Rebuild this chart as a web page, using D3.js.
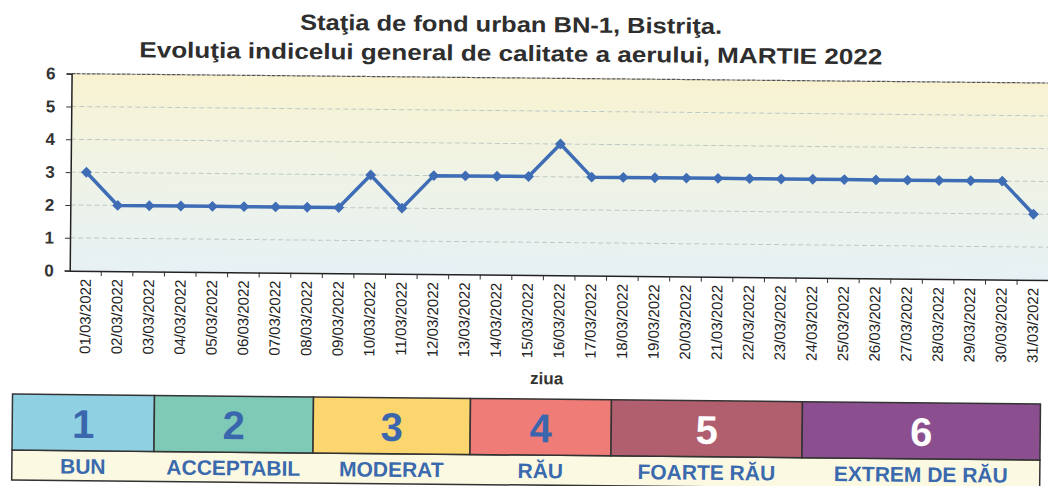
<!DOCTYPE html>
<html>
<head>
<meta charset="utf-8">
<script src="https://cdn.jsdelivr.net/npm/d3@7/dist/d3.min.js"></script>
<style>
  html, body { margin: 0; padding: 0; background: #ffffff; }
  svg { display: block; font-family: Arial, "Liberation Sans", sans-serif; }
</style>
</head>
<body>
<svg id="chart" width="1048" height="486"></svg>
<script>
// ---------- DATA ----------
const titleLines = ["Staţia de fond urban BN-1, Bistriţa.",
                    "Evoluţia indicelui general de calitate a aerului, MARTIE 2022"];
const days = ["01/03/2022","02/03/2022","03/03/2022","04/03/2022","05/03/2022","06/03/2022",
              "07/03/2022","08/03/2022","09/03/2022","10/03/2022","11/03/2022","12/03/2022",
              "13/03/2022","14/03/2022","15/03/2022","16/03/2022","17/03/2022","18/03/2022",
              "19/03/2022","20/03/2022","21/03/2022","22/03/2022","23/03/2022","24/03/2022",
              "25/03/2022","26/03/2022","27/03/2022","28/03/2022","29/03/2022","30/03/2022",
              "31/03/2022"];
const aqiValues = [3,2,2,2,2,2,2,2,2,3,2,3,3,3,3,4,3,3,3,3,3,3,3,3,3,3,3,3,3,3,2];
const yTicks = [0,1,2,3,4,5,6];
const xAxisTitle = "ziua";
const levels = [1,2,3,4,5,6];
const levelLabels = ["BUN","ACCEPTABIL","MODERAT","RĂU","FOARTE RĂU","EXTREM DE RĂU"];

// ---------- STYLE / LAYOUT ----------
const levelColors = ["#8fd0e2","#7fcab7","#fbd66f","#ef7c77","#b15f6f","#8b4e8e"];
const levelNumColors = ["#3a66ad","#3a66ad","#3a66ad","#3a66ad","#ffffff","#ffffff"];
const legendCellWidths = [142,159,157,141,191,238];
const lineColor = "#3e6db6";

const svg = d3.select("#chart");
const root = svg.append("g")
  .attr("transform", "rotate(0.55 524 243)");

const plot = {left: 70, right: 1049, top: 78, bottom: 275};

// defs: background gradient
const defs = svg.append("defs");
const grad = defs.append("linearGradient").attr("id","bg")
  .attr("x1",0).attr("y1",0).attr("x2",0).attr("y2",1);
grad.append("stop").attr("offset","0%").attr("stop-color","#f8f2d0");
grad.append("stop").attr("offset","45%").attr("stop-color","#f0f3e4");
grad.append("stop").attr("offset","100%").attr("stop-color","#e7f1f5");

// title
root.selectAll("text.title").data(titleLines).join("text")
  .attr("class","title")
  .attr("x", 509)
  .attr("y", (d,i) => i === 0 ? 32 : 61)
  .attr("text-anchor","middle")
  .attr("font-size", 22)
  .attr("font-weight","bold")
  .attr("fill","#2e2e2e")
  .attr("textLength", (d,i) => i === 0 ? 422 : 743)
  .attr("lengthAdjust","spacingAndGlyphs")
  .text(d => d);

// scales
const x = d3.scaleBand().domain(days).range([plot.left, plot.right]);
const y = d3.scaleLinear().domain([0,6]).range([plot.bottom, plot.top]);

// plot background
root.append("rect")
  .attr("x", plot.left).attr("y", plot.top)
  .attr("width", plot.right - plot.left).attr("height", plot.bottom - plot.top)
  .attr("fill","url(#bg)");

// gridlines
root.append("g").selectAll("line").data(yTicks.filter(t => t > 0 && t < 6)).join("line")
  .attr("x1", plot.left).attr("x2", plot.right)
  .attr("y1", d => y(d)).attr("y2", d => y(d))
  .attr("stroke","#bccac6").attr("stroke-width",1)
  .attr("stroke-dasharray","5,3");

// top border
root.append("line")
  .attr("x1", plot.left).attr("x2", plot.right)
  .attr("y1", y(6)).attr("y2", y(6))
  .attr("stroke","#555").attr("stroke-width",1.2)
  .attr("stroke-dasharray","4,1");

// y axis
const yAxis = root.append("g")
  .attr("transform", `translate(${plot.left},0)`)
  .call(d3.axisLeft(y).tickValues(yTicks).tickSize(5).tickPadding(11).tickFormat(d3.format("d")));
yAxis.select(".domain").attr("stroke","#222").attr("stroke-width",1.5);
yAxis.selectAll(".tick line").attr("stroke","#333");
yAxis.selectAll(".tick text")
  .attr("font-size",17).attr("font-weight","bold").attr("fill","#333")
  .attr("font-family","Arial, 'Liberation Sans', sans-serif");

// x axis (labels)
const xAxis = root.append("g")
  .attr("transform", `translate(0,${plot.bottom})`)
  .call(d3.axisBottom(x).tickSize(0).tickPadding(0));
xAxis.select(".domain").attr("stroke","#222").attr("stroke-width",1.5);
xAxis.selectAll(".tick text")
  .attr("transform","rotate(-90)")
  .attr("x", -8).attr("y", 0).attr("dy","0.36em")
  .attr("text-anchor","end")
  .attr("font-size",15).attr("fill","#222")
  .attr("font-family","Arial, 'Liberation Sans', sans-serif");
// boundary ticks
root.append("g").selectAll("line").data(days.slice(1)).join("line")
  .attr("x1", d => x(d)).attr("x2", d => x(d))
  .attr("y1", plot.bottom).attr("y2", plot.bottom + 5)
  .attr("stroke","#333").attr("stroke-width",1);

// x axis title
root.append("text")
  .attr("x", 548).attr("y", 384)
  .attr("text-anchor","middle")
  .attr("font-size",17).attr("font-weight","bold").attr("fill","#333")
  .text(xAxisTitle);

// line
const lineGen = d3.line()
  .x((d,i) => x(days[i]) + x.bandwidth()/2)
  .y(d => y(d));
root.append("path")
  .datum(aqiValues)
  .attr("d", lineGen)
  .attr("fill","none")
  .attr("stroke", lineColor)
  .attr("stroke-width", 3.5)
  .attr("stroke-linejoin","round");

// markers
const diamond = d3.symbol().type(d3.symbolDiamond2).size(75);
root.append("g").selectAll("path").data(aqiValues).join("path")
  .attr("d", diamond)
  .attr("transform", (d,i) => `translate(${x(days[i]) + x.bandwidth()/2},${y(d)})`)
  .attr("fill", lineColor);

// ---------- LEGEND ----------
const legend = {left: 14, top: 399, mid: 455, bottom: 485};
const cellX = [];
let acc = legend.left;
legendCellWidths.forEach(w => { cellX.push(acc); acc += w; });
const legendRight = acc;

// label row background
root.append("rect")
  .attr("x", legend.left).attr("y", legend.mid)
  .attr("width", legendRight - legend.left).attr("height", legend.bottom - legend.mid)
  .attr("fill","#fbf9e2").attr("stroke","#333").attr("stroke-width",1.5);

const cells = root.append("g").selectAll("g").data(levels).join("g");
cells.append("rect")
  .attr("x", (d,i) => cellX[i]).attr("y", legend.top)
  .attr("width", (d,i) => legendCellWidths[i]).attr("height", legend.mid - legend.top)
  .attr("fill", (d,i) => levelColors[i])
  .attr("stroke","#333").attr("stroke-width",1.5);
cells.append("text")
  .attr("x", (d,i) => cellX[i] + legendCellWidths[i]/2)
  .attr("y", legend.top + 43)
  .attr("text-anchor","middle")
  .attr("font-size",40).attr("font-weight","bold")
  .attr("fill", (d,i) => levelNumColors[i])
  .text(d => d);
cells.append("text")
  .attr("x", (d,i) => cellX[i] + legendCellWidths[i]/2)
  .attr("y", legend.mid + 23)
  .attr("text-anchor","middle")
  .attr("font-size",21).attr("font-weight","bold")
  .attr("fill","#3a69ae")
  .text((d,i) => levelLabels[i]);
</script>
</body>
</html>
